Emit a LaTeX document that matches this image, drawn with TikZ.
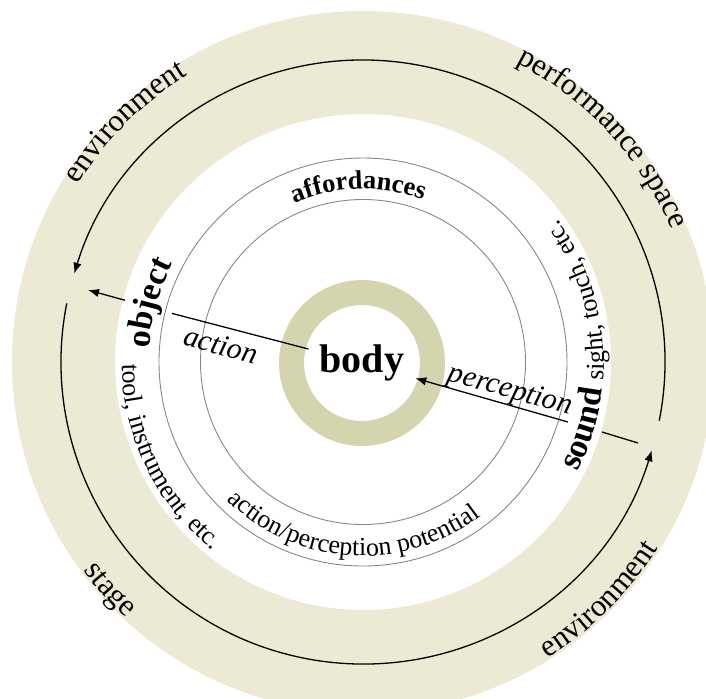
\documentclass[tikz,border=0pt]{standalone}
\usepackage{fontspec}
\setmainfont{Liberation Serif}
\usetikzlibrary{decorations.text,arrows.meta,calc}

\definecolor{ringbeige}{RGB}{236,234,213}
\definecolor{bodyolive}{RGB}{212,213,174}
\definecolor{circlegray}{RGB}{135,135,135}

% font sizes
\newcommand\fsOuter{\fontsize{15.5}{18}\selectfont}
\newcommand\fsAfford{\fontsize{13.2}{16}\selectfont\bfseries}
\newcommand\fsSmall{\fontsize{13}{15}\selectfont}
\newcommand\fsThing{\fontsize{17}{20}\selectfont\bfseries}
\newcommand\fsVerb{\fontsize{15}{18}\selectfont\itshape}
\newcommand\fsBody{\fontsize{20}{24}\selectfont\bfseries}

\tikzset{
  blackline/.style={line width=0.65pt, black},
  arrowline/.style={line width=0.65pt, black},
  tipstyle/.style={-{Latex[length=5.5pt,width=4.2pt]}},
  grayring/.style={line width=0.45pt, circlegray},
  arctext/.style={decorate, decoration={text along path, text align=center}},
  verblabel/.style={font=\fsVerb, inner sep=1pt},
  bodynode/.style={circle, minimum size=55pt, inner sep=0pt, font=\fsBody},
}

\begin{document}
\begin{tikzpicture}[x=0.5pt, y=0.5pt]
  \useasboundingbox (-363,-336) rectangle (343,362);
  \clip (-363,-336) rectangle (343,362);

  % outer environment band
  \fill[ringbeige, even odd rule] (0,0) circle[radius=351] (0,0) circle[radius=248];

  % environment cycle
  \draw[blackline, tipstyle] (-11.2:302) arc[start angle=-11.2, end angle=163, radius=302];
  \draw[blackline, tipstyle] (168.8:302) arc[start angle=168.8, end angle=343, radius=302];

  % affordance rings
  \draw[grayring] (0,0) circle[radius=204];
  \draw[grayring] (0,0) circle[radius=162.5];

  % body ring
  \fill[bodyolive, even odd rule] (-1,-1) circle[radius=83] (-1,-1) circle[radius=58];
  \node[bodynode] (body) at (-1,-1) {body};

  % action: body -> object
  \coordinate (actIn)  at (-191,48.6);
  \coordinate (actOut) at (-238,61.7);
  \coordinate (actTip) at (-275,72);
  \draw[arrowline] (body) -- (actIn);
  \draw[arrowline, tipstyle] (actOut) -- (actTip);

  % perception: sound -> body
  \coordinate (perStart) at (275,-81);
  \coordinate (perOut)   at (239,-70);
  \coordinate (perIn)    at (205,-60);
  \draw[arrowline] (perStart) -- (perOut);
  \draw[arrowline, tipstyle] (perIn) -- (body);

  \node[verblabel, rotate=-15]   (actionlabel)     at (-142,17)  {action};
  \node[verblabel, rotate=-15.5] (perceptionlabel) at (147,-29)  {perception};

  % texts along the outer band
  \path[arctext, decoration={text={|\fsOuter|environment}}]
    (164.8:336) arc[start angle=164.8, end angle=104.8, radius=336];
  \path[arctext, decoration={text={|\fsOuter|performance space}}]
    (78:336) arc[start angle=78, end angle=8, radius=336];
  \path[arctext, decoration={text={|\fsOuter|stage}}]
    (192:349) arc[start angle=192, end angle=252, radius=349];
  \path[arctext, decoration={text={|\fsOuter|environment}}]
    (284.8:349) arc[start angle=284.8, end angle=344.8, radius=349];

  % texts inside the white disc
  \path[arctext, decoration={text={|\fsAfford|affordances}}]
    (126.5:173) arc[start angle=126.5, end angle=56.5, radius=173];
  \path[arctext, decoration={text={|\fsSmall|action/perception potential}}]
    (211.4:194) arc[start angle=211.4, end angle=321.4, radius=194];
  \path[arctext, decoration={text={|\fsThing|object}}]
    (194.5:214) arc[start angle=194.5, end angle=134.5, radius=214];
  \path[decorate, decoration={text along path, text align=left, text={|\fsSmall|tool, instrument, etc.}}]
    (180.5:241) arc[start angle=180.5, end angle=260, radius=241];
  \path[arctext, decoration={text={|\fsThing|sound}}]
    (-46.8:241) arc[start angle=-46.8, end angle=13.2, radius=241];
  \path[decorate, decoration={text along path, text align=left, text={|\fsSmall|sight, touch, etc.}}]
    (-4.5:241) arc[start angle=-4.5, end angle=60, radius=241];
\end{tikzpicture}
\end{document}
